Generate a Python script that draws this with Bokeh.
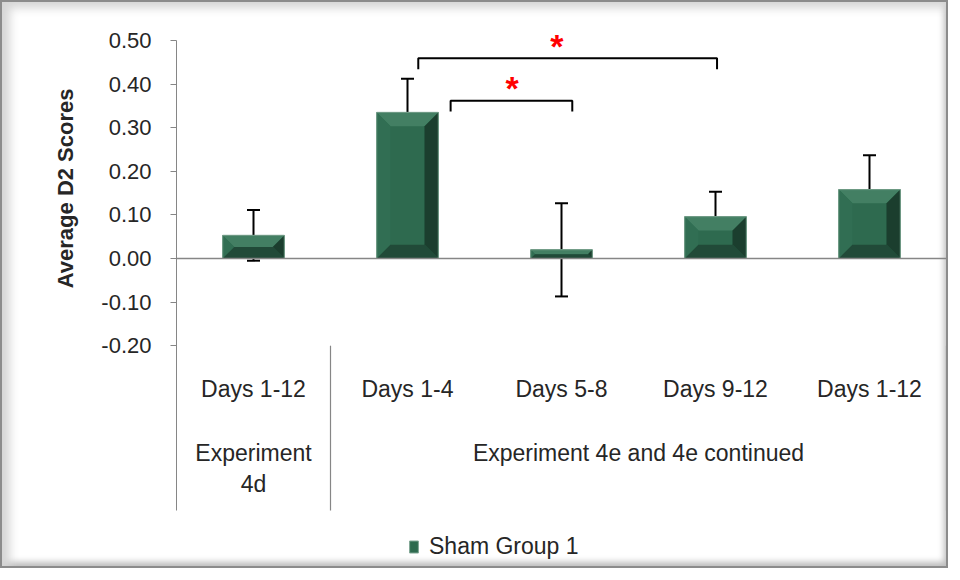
from bokeh.plotting import figure
from bokeh.models import (ColumnDataSource, FixedTicker, LinearAxis, Range1d, Span,
                          Whisker, TeeHead, Legend, LegendItem, Title)
from bokeh.core.properties import value
from bokeh.embed import file_html
from bokeh.resources import INLINE

# ---------------- data ----------------
days = ["Days 1-12", "Days 1-4", "Days 5-8", "Days 9-12", "Days 1-12"]
experiments = ["Experiment\n4d", "Experiment 4e and 4e continued"]
experiment_sizes = [1, 4]
means = [0.053, 0.335, 0.020, 0.096, 0.158]
errors = [0.058, 0.077, 0.107, 0.057, 0.079]
y_ticks = [-0.2, -0.1, 0.0, 0.1, 0.2, 0.3, 0.4, 0.5]
y_tick_labels = ["-0.20", "-0.10", "0.00", "0.10", "0.20", "0.30", "0.40", "0.50"]
series_name = "Sham Group 1"
y_title = "Average D2 Scores"
bracket_x0 = [1.57, 1.78]
bracket_x1 = [3.51, 2.57]
bracket_y = [0.459, 0.362]
star_x = [2.47, 2.18]
star_y = [0.495, 0.399]

# ---------------- style ----------------
FONT = "Liberation Sans"
TXT = "#262626"
GRID = "#868686"
PX_X = 154.0   # px per category unit
PX_Y = 436.0   # px per y unit
BAR_W = 0.40
BEVEL = 14.0

W, H = 948, 568
p = figure(width=W, height=H, output_backend="svg", toolbar_location=None,
           x_range=Range1d(0, len(days)), y_range=Range1d(-0.7064, 0.5298),
           min_border_left=174, min_border_right=4, min_border_top=25,
           min_border_bottom=4, x_axis_location=None, y_axis_location=None)
p.xgrid.visible = False
p.ygrid.visible = False
p.outline_line_color = None
p.border_fill_color = None
p.background_fill_color = None
p.styles = {"border": "2px solid #8c8c8c", "background": "white",
            "box-shadow": "inset 14px 12px 10px -6px #d6d6d6, inset -4px -6px 6px -2px #bdbdbd"}

xs = [i + 0.5 for i in range(len(days))]

# y axis
yax = LinearAxis(ticker=FixedTicker(ticks=y_ticks),
                 major_label_overrides={t: l for t, l in zip(y_ticks, y_tick_labels)},
                 bounds=(-0.578, 0.5))
yax.axis_line_color = GRID
yax.major_tick_line_color = GRID
yax.major_tick_out = 6
yax.major_tick_in = 0
yax.minor_tick_line_color = None
yax.major_label_standoff = 19
yax.major_label_text_font = FONT
yax.major_label_text_font_size = "22px"
yax.major_label_text_color = TXT
p.add_layout(yax, "left")

# y title (placed next to the ticked part of the axis)
p.add_layout(Title(text=y_title, align="right", offset=61, standoff=41,
                   text_font=FONT, text_font_style="bold", text_font_size="22px",
                   text_color=TXT), "left")

# category axes (fixed at -0.20)
xax = LinearAxis(ticker=FixedTicker(ticks=xs),
                 major_label_overrides={x: d for x, d in zip(xs, days)},
                 fixed_location=-0.2)
# group axis
bounds = [0]
for s in experiment_sizes:
    bounds.append(bounds[-1] + s)
gcent = [(bounds[i] + bounds[i + 1]) / 2 for i in range(len(experiment_sizes))]
gax = LinearAxis(ticker=FixedTicker(ticks=gcent),
                 major_label_overrides={x: e for x, e in zip(gcent, experiments)},
                 fixed_location=-0.2)
for ax, so in ((xax, 24), (gax, 88)):
    ax.axis_line_color = None
    ax.major_tick_line_color = None
    ax.minor_tick_line_color = None
    ax.major_label_standoff = so
    ax.major_label_text_font = FONT
    ax.major_label_text_font_size = "23px"
    ax.major_label_text_color = TXT
    p.add_layout(ax, "below")

# zero line
p.add_layout(Span(location=0, dimension="width", line_color=GRID, line_width=1.5))

# separators
sep_x = bounds[1:]
p.segment(x0=sep_x, x1=sep_x, y0=[-0.2] * len(sep_x), y1=[-0.578] * len(sep_x),
          line_color=GRID, line_width=1.2)

# bars (base for legend)
src = ColumnDataSource(dict(x=xs, top=means, lo=[m - e for m, e in zip(means, errors)],
                            hi=[m + e for m, e in zip(means, errors)]))
base = p.vbar(x="x", top="top", bottom=0, width=BAR_W, source=src,
              fill_color="#2d6a4e", line_color="#7fa593", line_width=1)

# bevel pieces
top_x, top_y, left_x, left_y, right_x, right_y, bot_x, bot_y, in_x, in_y = ([] for _ in range(10))
for c, t in zip(xs, means):
    L, R, B, T = c - BAR_W / 2, c + BAR_W / 2, 0.0, t
    b = min(BEVEL, t * PX_Y / 2)
    bx, by = b / PX_X, b / PX_Y
    top_x.append([L, R, R - bx, L + bx]); top_y.append([T, T, T - by, T - by])
    left_x.append([L, L, L + bx, L + bx]); left_y.append([B, T, T - by, B + by])
    right_x.append([R, R, R - bx, R - bx]); right_y.append([B, T, T - by, B + by])
    bot_x.append([L, R, R - bx, L + bx]); bot_y.append([B, B, B + by, B + by])
    in_x.append([L + bx, R - bx, R - bx, L + bx]); in_y.append([B + by, B + by, T - by, T - by])
p.patches(top_x, top_y, fill_color="#437f63", line_color=None)
p.patches(left_x, left_y, fill_color="#316e53", line_color=None)
p.patches(right_x, right_y, fill_color="#1b3e2e", line_color=None)
p.patches(bot_x, bot_y, fill_color="#214a38", line_color=None)
p.patches(in_x, in_y, fill_color="#2e6a4f", line_color=None)
p.vbar(x="x", top="top", bottom=0, width=BAR_W, source=src,
       fill_color=None, line_color="#6f9a85", line_width=1)

# error bars
wh = Whisker(base="x", upper="hi", lower="lo", source=src, line_color="black", line_width=2,
             upper_head=TeeHead(size=13, line_width=2, line_color="black"),
             lower_head=TeeHead(size=13, line_width=2, line_color="black"))
p.add_layout(wh)

# significance brackets
DROP = 0.025
bxs = [[a, a, b, b] for a, b in zip(bracket_x0, bracket_x1)]
bys = [[y - DROP, y, y, y - DROP] for y in bracket_y]
p.multi_line(bxs, bys, line_color="black", line_width=2)
p.text(x=star_x, y=star_y, text=["*"] * len(star_x), text_color="red",
       text_font=value(FONT), text_font_style="bold", text_font_size="34px",
       text_align="center", text_baseline="alphabetic", y_offset=3)

legend = Legend(items=[LegendItem(label=series_name, renderers=[base])],
                location=(232, 6), padding=0, margin=0, border_line_color=None,
                background_fill_alpha=0, glyph_width=11, glyph_height=15,
                label_height=24, label_standoff=10,
                label_text_font=FONT, label_text_font_size="23px", label_text_color=TXT)
p.add_layout(legend)

open("out.html", "w").write(file_html(p, INLINE))
